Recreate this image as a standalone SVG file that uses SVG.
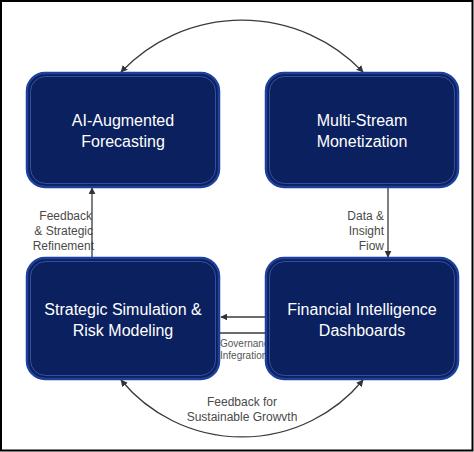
<svg xmlns="http://www.w3.org/2000/svg" width="474" height="452" viewBox="0 0 474 452">
<defs>
<marker id="arr" viewBox="0 0 10 10" refX="9" refY="5" markerWidth="7" markerHeight="7" markerUnits="userSpaceOnUse" orient="auto-start-reverse">
<path d="M0,0 L10,5 L0,10 z" fill="#333"/>
</marker>
<style>
.box{fill:#0b205e;stroke:#1d3f9e;stroke-width:2.5}
.inner{fill:none;stroke:#5a78c8;stroke-opacity:0.55;stroke-width:1}
.title{font-family:"Liberation Sans",Arial,sans-serif;font-size:16px;fill:#ffffff;text-anchor:middle}
.lbl{font-family:"Liberation Sans",Arial,sans-serif;font-size:12px;fill:#4a4a4a}
.small{font-family:"Liberation Sans",Arial,sans-serif;font-size:10px;fill:#555}
.conn{fill:none;stroke:#3a3a3a;stroke-width:1.3}
</style>
</defs>
<rect x="0" y="0" width="474" height="452" fill="#ffffff"/>
<g id="connectors">
<path class="conn" d="M121,72 A167,167 0 0 1 363,72" marker-start="url(#arr)" marker-end="url(#arr)"/>
<path class="conn" d="M121,380 A157,157 0 0 0 363,380" marker-start="url(#arr)" marker-end="url(#arr)"/>
<text class="lbl" text-anchor="end" x="92" y="220">Feedback</text>
<text class="lbl" text-anchor="end" x="93" y="235">&amp; Strategic</text>
<text class="lbl" text-anchor="end" x="94" y="250">Refinement</text>
<path class="conn" d="M92,258 L92,188" marker-end="url(#arr)"/>
<text class="lbl" text-anchor="end" x="384" y="220">Data &amp;</text>
<text class="lbl" text-anchor="end" x="384" y="235">Insight</text>
<text class="lbl" text-anchor="end" x="384" y="250">Fiow</text>
<path class="conn" d="M388,187 L388,257" marker-end="url(#arr)"/>
<path class="conn" d="M266,317 L221,317" marker-end="url(#arr)"/>
<path class="conn" d="M219,333 L266,333"/>
<text class="small" x="220" y="347">Governance</text>
<text class="small" x="220" y="359">Infegration</text>
<text class="lbl" text-anchor="middle" x="242" y="406">Feedback for</text>
<text class="lbl" text-anchor="middle" x="242" y="421">Sustainable Growvth</text>
</g>
<g id="node-forecasting">
<rect class="box" x="27" y="73" width="192" height="114" rx="18"/>
<rect class="inner" x="30.5" y="76.5" width="185" height="107" rx="15"/>
<text class="title" x="123" y="126">AI-Augmented</text>
<text class="title" x="123" y="147">Forecasting</text>
</g>
<g id="node-monetization">
<rect class="box" x="266" y="73" width="192" height="114" rx="18"/>
<rect class="inner" x="269.5" y="76.5" width="185" height="107" rx="15"/>
<text class="title" x="362" y="126">Multi-Stream</text>
<text class="title" x="362" y="147">Monetization</text>
</g>
<g id="node-simulation">
<rect class="box" x="27" y="258" width="192" height="121" rx="18"/>
<rect class="inner" x="30.5" y="261.5" width="185" height="114" rx="15"/>
<text class="title" x="123" y="315">Strategic Simulation &amp;</text>
<text class="title" x="123" y="336">Risk Modeling</text>
</g>
<g id="node-dashboards">
<rect class="box" x="266" y="258" width="192" height="121" rx="18"/>
<rect class="inner" x="269.5" y="261.5" width="185" height="114" rx="15"/>
<text class="title" x="362" y="315">Financial Intelligence</text>
<text class="title" x="362" y="336">Dashboards</text>
</g>
<rect x="1" y="1" width="471.5" height="449.5" fill="none" stroke="#000" stroke-width="2"/>
</svg>
